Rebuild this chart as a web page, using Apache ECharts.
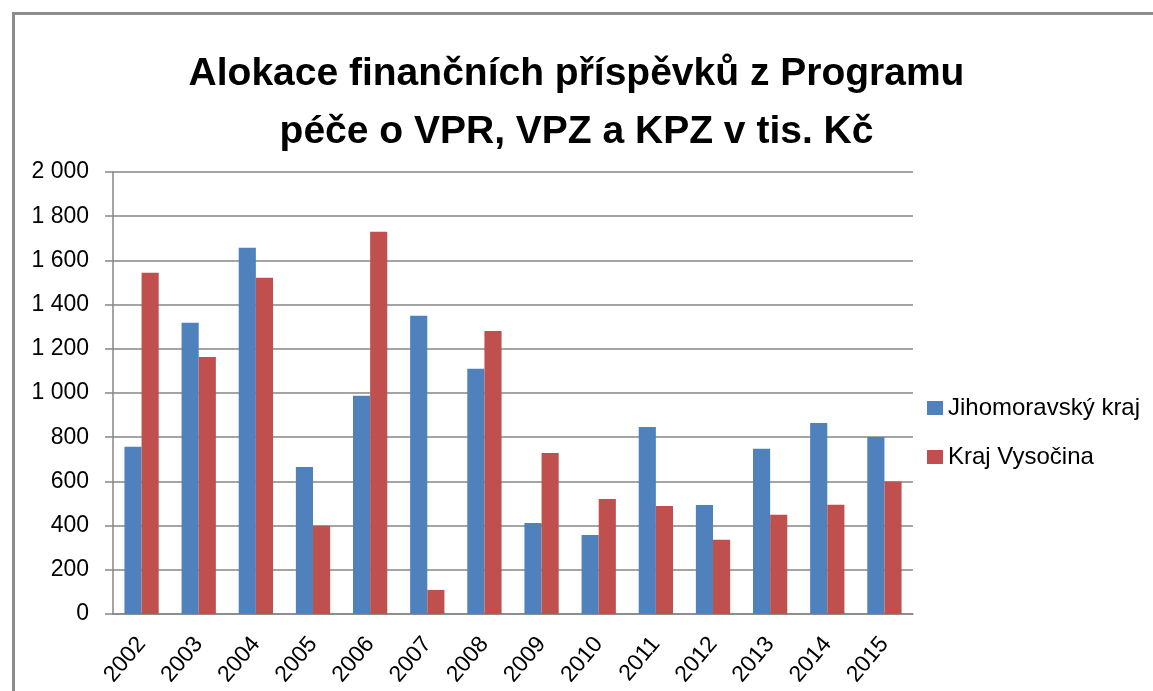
<!DOCTYPE html>
<html>
<head>
<meta charset="utf-8">
<script src="https://cdn.jsdelivr.net/npm/echarts@6/dist/echarts.min.js"></script>
<style>
html, body { margin: 0; padding: 0; background: #fff; }
#main { width: 1153px; height: 691px; }
</style>
</head>
<body>
<div id="main"></div>
<script>
/* data */
var years = ['2002', '2003', '2004', '2005', '2006', '2007', '2008', '2009', '2010', '2011', '2012', '2013', '2014', '2015'];
var jihomoravsky = [757, 1318, 1657, 665, 987, 1349, 1110, 412, 358, 846, 493, 748, 864, 801];
var vysocina = [1544, 1163, 1521, 399, 1730, 109, 1281, 729, 520, 489, 336, 449, 494, 599];
var yTicks = { min: 0, max: 2000, step: 200 };

var font = 'Liberation Sans, Arial, sans-serif';

function fmt(v) {
	// "2 000" style thousands separator
	return String(v).replace(/\B(?=(\d{3})+(?!\d))/g, ' ');
}

var myChart = echarts.init(document.getElementById('main'));
var option = {
	animation: false,
	backgroundColor: '#fff',
	title: {
		text: 'Alokace finančních příspěvků z Programu\npéče o VPR, VPZ a KPZ v tis. Kč',
		left: 'center',
		top: 40,
		textStyle: {
			fontFamily: font,
			fontWeight: 'bold',
			fontSize: 39,
			lineHeight: 58,
			color: '#000'
		}
	},
	graphic: [{
		type: 'rect',
		left: 11,
		top: 11,
		shape: { width: 1200, height: 800 },
		style: { fill: null, stroke: '#8c8c8c', lineWidth: 3 },
		silent: true
	}],
	legend: {
		orient: 'vertical',
		left: 922,
		top: 391,
		itemWidth: 16,
		itemHeight: 14,
		itemGap: 25,
		icon: 'rect',
		textStyle: { fontFamily: font, fontSize: 24, color: '#000' },
		data: ['Jihomoravský kraj', 'Kraj Vysočina']
	},
	grid: {
		left: 113,
		right: 240,
		top: 172,
		bottom: 77,
		containLabel: false,
		outerBoundsMode: 'none'
	},
	xAxis: {
		type: 'category',
		data: years,
		axisLine: { lineStyle: { color: '#868686', width: 1.5 } },
		axisTick: { length: 9, lineStyle: { color: '#868686', width: 1.5 } },
		axisLabel: {
			rotate: 50,
			margin: 26,
			fontFamily: font,
			fontSize: 23,
			color: '#000'
		}
	},
	yAxis: {
		type: 'value',
		min: yTicks.min,
		max: yTicks.max,
		interval: yTicks.step,
		axisLine: { show: true, lineStyle: { color: '#868686', width: 1.5 } },
		axisTick: { show: true, length: 8, lineStyle: { color: '#868686', width: 1.5 } },
		splitLine: { lineStyle: { color: '#868686', width: 1.5 } },
		axisLabel: {
			margin: 24,
			fontFamily: font,
			fontSize: 23,
			color: '#000',
			formatter: fmt
		}
	},
	series: [{
		name: 'Jihomoravský kraj',
		type: 'bar',
		data: jihomoravsky,
		barGap: '0%',
		barCategoryGap: '40%',
		itemStyle: { color: '#4F81BD' }
	}, {
		name: 'Kraj Vysočina',
		type: 'bar',
		data: vysocina,
		barGap: '0%',
		barCategoryGap: '40%',
		itemStyle: { color: '#C0504D' }
	}]
};
myChart.setOption(option);
</script>
</body>
</html>
